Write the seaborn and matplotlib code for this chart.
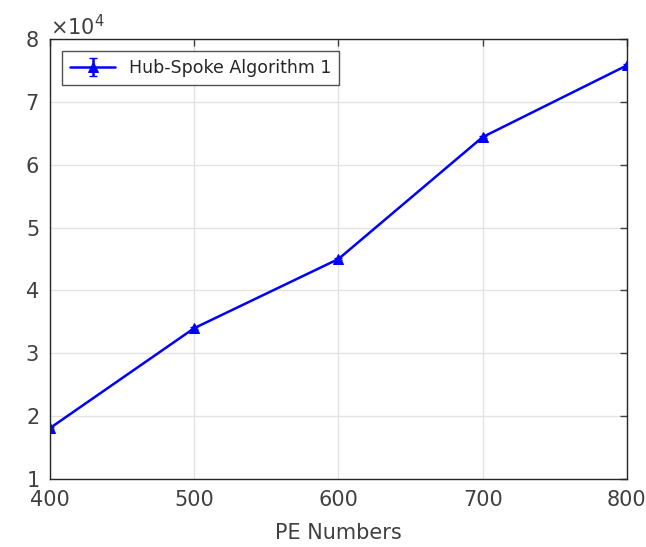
import numpy as np
import pandas as pd
import matplotlib
matplotlib.use("Agg")
import matplotlib.pyplot as plt
import seaborn as sns

# values
pe_numbers = [400, 500, 600, 700, 800]
hub_spoke = [18100, 34000, 45000, 64400, 75800]
hub_spoke_err = [200, 200, 200, 200, 200]
series_label = "Hub-Spoke Algorithm 1"

sns.set_style("white")
plt.rcParams["font.family"] = ["DejaVu Sans"]

df = pd.DataFrame({"pe": pe_numbers, "val": hub_spoke})

fig = plt.figure(figsize=(6.46, 5.47), dpi=100)
ax = fig.add_axes([0.0774, 0.1243, 0.893, 0.8044])

sns.lineplot(data=df, x="pe", y="val", ax=ax, color="blue", marker="^",
             markersize=7, markeredgecolor="blue", linewidth=1.8, legend=False)
line = ax.lines[-1]
eb = ax.errorbar(pe_numbers, hub_spoke, yerr=hub_spoke_err, fmt="none",
                 ecolor="blue", elinewidth=1.8, capsize=3)

ax.set_xlim(400, 800)
ax.set_ylim(10000, 80000)
ax.set_xticks(pe_numbers)
ax.set_yticks(np.arange(10000, 80001, 10000))
ax.ticklabel_format(axis="y", style="sci", scilimits=(4, 4), useMathText=True)
ax.yaxis.get_offset_text().set_fontsize(15)
ax.yaxis.get_offset_text().set_color("#404040")

ax.grid(True, color="#e3e3e3", linewidth=1)
ax.tick_params(direction="in", top=True, right=True, length=5, width=1,
               labelsize=15, colors="#404040", pad=8)
for s in ax.spines.values():
    s.set_color("#262626")
    s.set_linewidth(1)

ax.set_xlabel("PE Numbers", fontsize=15, color="#404040", labelpad=9)
ax.set_ylabel("")

ax.legend([(line, eb)], [series_label], loc="upper left", fontsize=12.5,
          frameon=True, fancybox=False, edgecolor="#262626",
          borderaxespad=0.7, handlelength=2.6, borderpad=0.45)

fig.savefig("out.png", dpi=100)
